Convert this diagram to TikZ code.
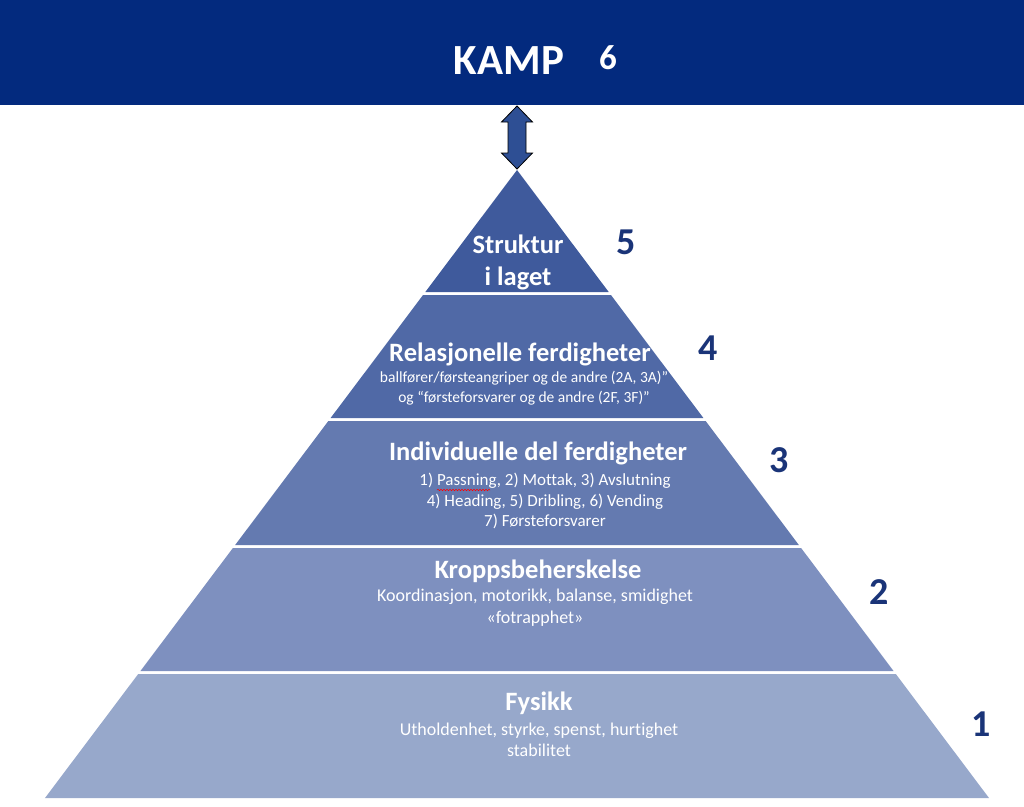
\documentclass[tikz,border=0pt]{standalone}
\usepackage{fontspec}
\setmainfont[Ligatures=NoCommon]{Carlito}
\usepackage{xcolor}
\usetikzlibrary{decorations.pathmorphing}

\definecolor{navy}{HTML}{032A7E}
\definecolor{numblue}{HTML}{1A3478}
\definecolor{arrowblue}{HTML}{2E4F94}
\definecolor{lvlfive}{HTML}{3F5A9C}
\definecolor{lvlfour}{HTML}{5069A6}
\definecolor{lvlthree}{HTML}{647AB0}
\definecolor{lvltwo}{HTML}{7E90BF}
\definecolor{lvlone}{HTML}{97A8CB}

\tikzset{
  title/.style={text=white, font=\bfseries\fontsize{26.5}{32}\selectfont, align=center, inner sep=0pt},
  sub/.style={text=white, font=\fontsize{#1}{21}\selectfont, align=center, inner sep=0pt},
  sub/.default=18,
  num/.style={text=numblue, font=\bfseries\fontsize{38}{38}\selectfont, inner sep=0pt},
}

\begin{document}
\begin{tikzpicture}[x=1pt,y=-1pt]
\useasboundingbox (0,0) rectangle (1024,806);

% banner
\node[fill=navy, minimum width=1024pt, minimum height=105pt, inner sep=0pt] (banner) at (512,52.5) {};
\node[text=white, font=\bfseries\fontsize{43}{43}\selectfont, inner sep=0pt] (kamp) at (509,61) {KAMP};
\node[text=white, font=\bfseries\fontsize{35}{35}\selectfont, inner sep=0pt] (six) at (608,58) {6};

% pyramid bands: top/bottom/colour
\foreach \t/\b/\c in {170/292/lvlfive, 295/418/lvlfour, 421/545/lvlthree, 548/671/lvltwo, 674/798/lvlone}
  \fill[\c] ({517-0.7516*(\t-170)},\t) -- ({517+0.7516*(\t-170)},\t)
     -- ({517+0.7516*(\b-170)},\b) -- ({517-0.7516*(\b-170)},\b) -- cycle;

% double arrow
\coordinate (top) at (517,106);
\coordinate (apex) at (517,169);
\draw[fill=arrowblue, draw=black, line width=0.8pt, line join=miter]
  (top) -- ++(15.5,16) -- ++(-6.5,0) -- ++(0,31) -- ++(6.5,0) -- (apex)
  -- ++(-15.5,-16) -- ++(6.5,0) -- ++(0,-31) -- ++(-6.5,0) -- cycle;

% level 5
\node[title] (struktur) at (518,262) {Struktur\\i laget};
% level 4
\node[title] (relasjon) at (520,354) {Relasjonelle ferdigheter};
\node[sub=15.5, font=\fontsize{15.5}{19.5}\selectfont] (relasjonsub) at (524,388) {ballfører/førsteangriper og de andre (2A, 3A)”\\og “førsteforsvarer og de andre (2F, 3F)”};
% level 3
\node[title] (individ) at (538,453) {Individuelle del ferdigheter};
\node[sub=17, font=\fontsize{17}{20.5}\selectfont] (individsub) at (545,501) {1) Passning, 2) Mottak, 3) Avslutning\\4) Heading, 5) Dribling, 6) Vending\\7) Førsteforsvarer};
\draw[red, line width=0.5pt, decorate, decoration={snake, amplitude=0.8pt, segment length=3pt}] (437,490) -- (490,490);
% level 2
\node[title] (kropp) at (538,571) {Kroppsbeherskelse};
\node[sub, font=\fontsize{18}{22}\selectfont] (kroppsub) at (535,608) {Koordinasjon, motorikk, balanse, smidighet\\«fotrapphet»};
% level 1
\node[title] (fysikk) at (539,703) {Fysikk};
\node[sub, font=\fontsize{18}{21}\selectfont] (fysikksub) at (539,740) {Utholdenhet, styrke, spenst, hurtighet\\stabilitet};

% level numbers
\node[num] (n5) at (626,242) {5};
\node[num] (n4) at (708,348) {4};
\node[num] (n3) at (779,460) {3};
\node[num] (n2) at (879,592) {2};
\node[num] (n1) at (981,724) {1};
\end{tikzpicture}
\end{document}
